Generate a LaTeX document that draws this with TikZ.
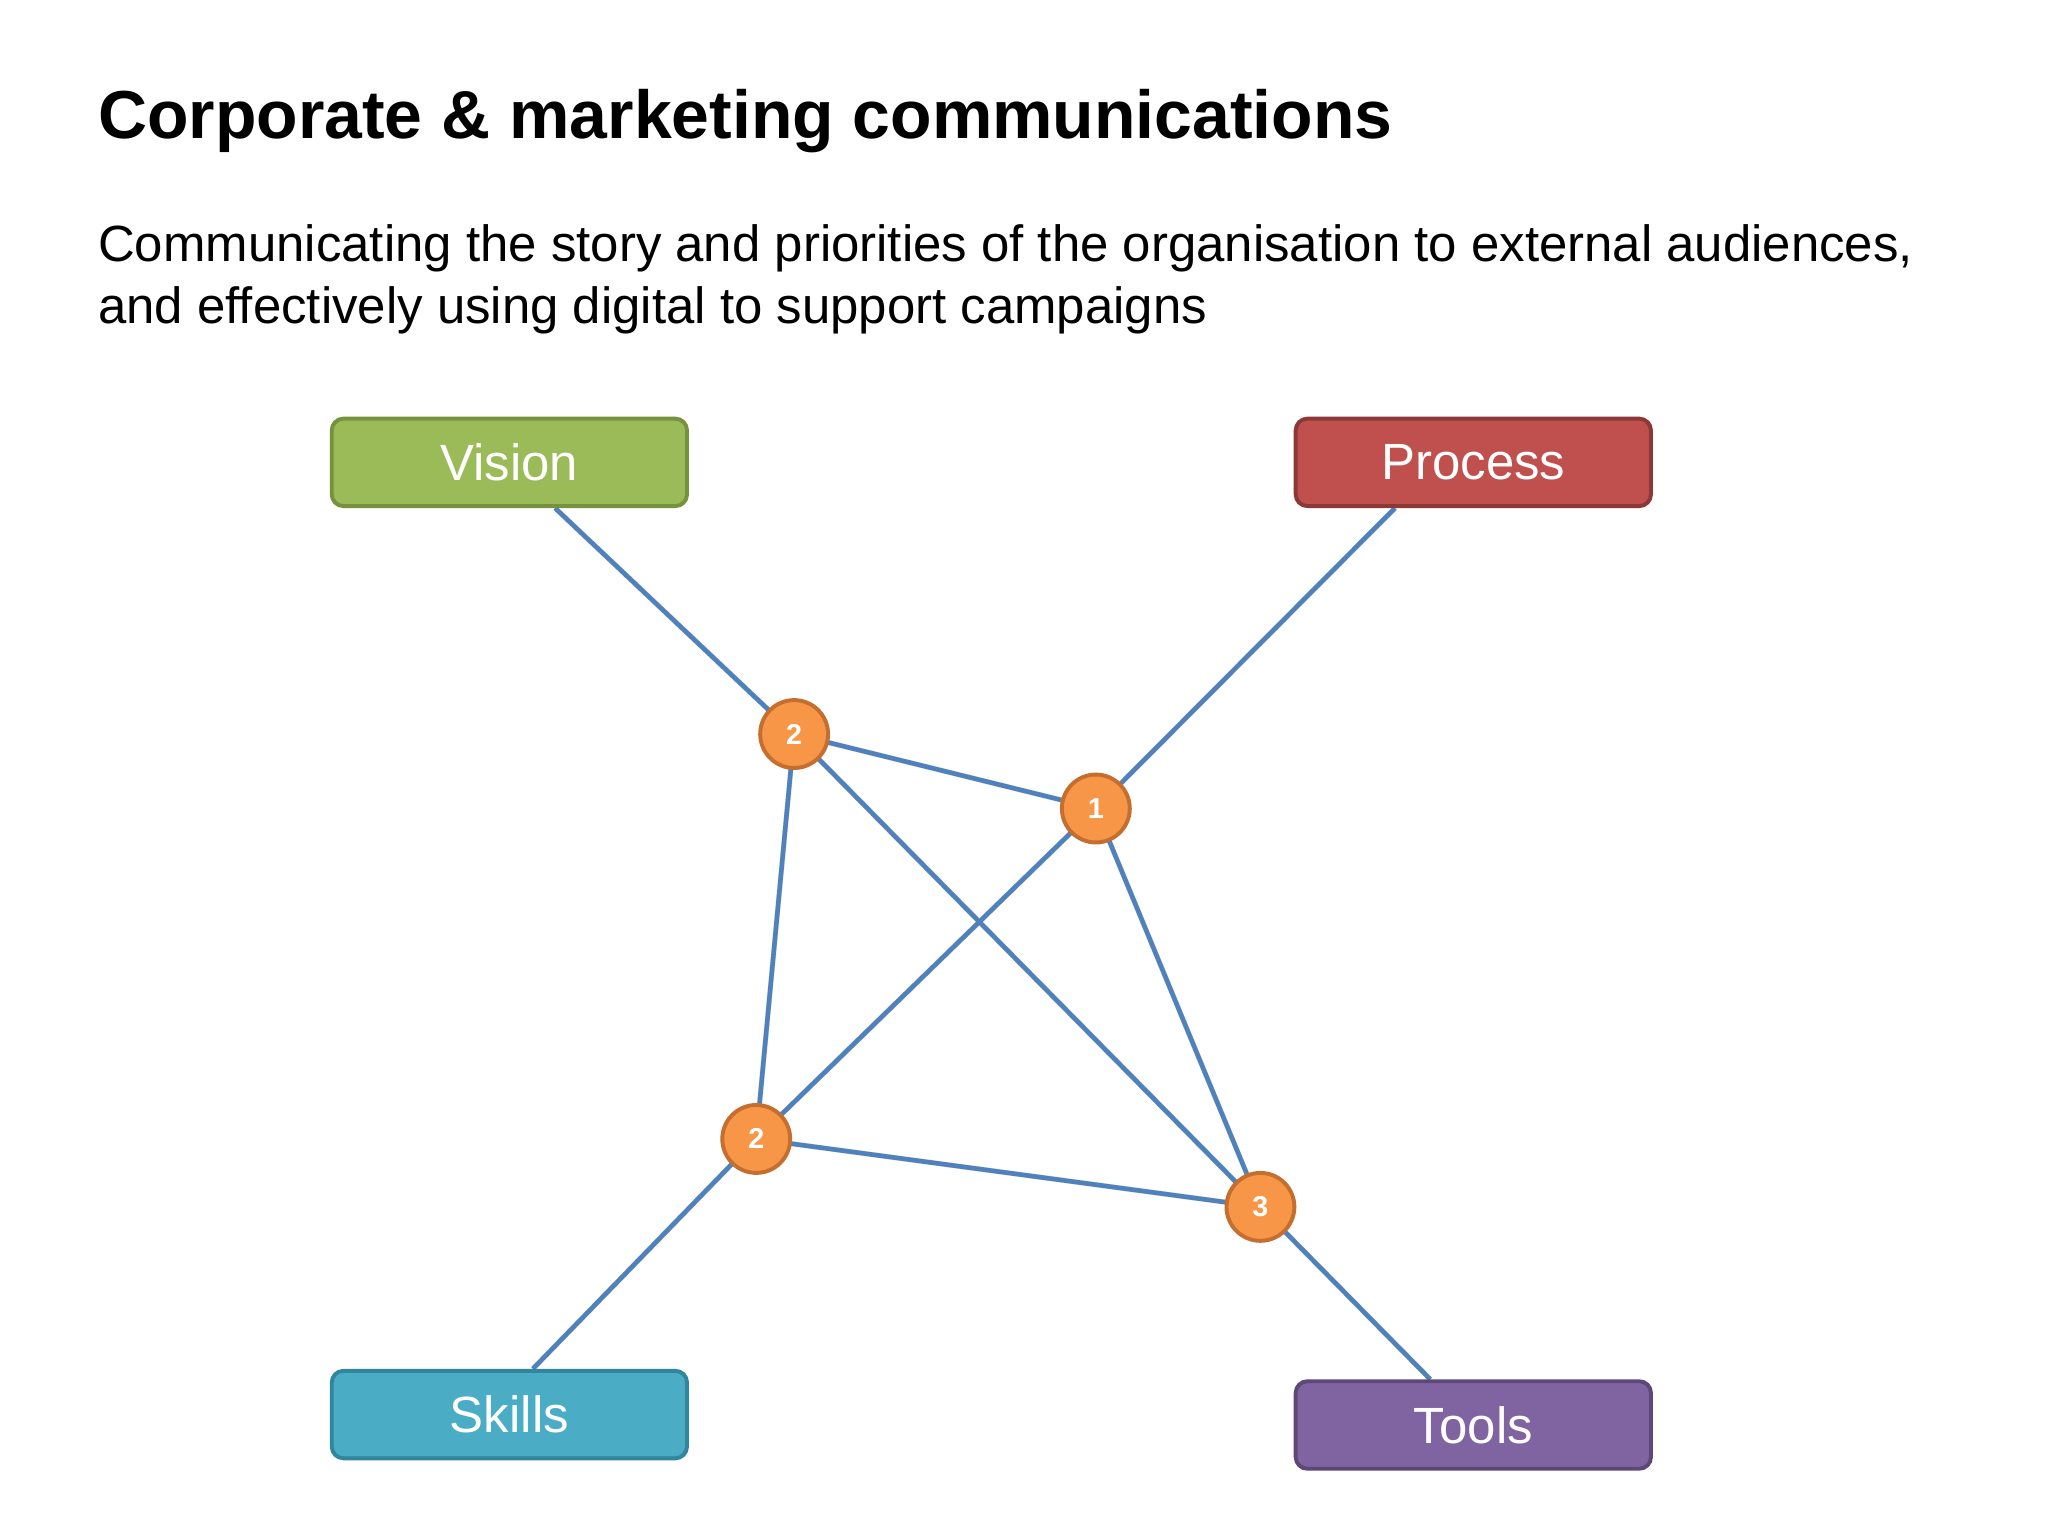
\documentclass[tikz,border=0pt]{standalone}
\usepackage{fontspec}
\setmainfont{Liberation Sans}
\begin{document}
\pgfdeclarelayer{back}\pgfdeclarelayer{lines}
\pgfsetlayers{back,lines,main}
\begin{tikzpicture}[x=1pt,y=-1pt,
  box/.style={rounded corners=9pt,line width=3pt,minimum width=272pt,minimum height=67pt,text=white,font=\fontsize{39}{45}\selectfont,inner sep=0pt},
  num/.style={circle,fill=numf,draw=numd,line width=3pt,minimum size=52pt,inner sep=0pt,text=white,font=\bfseries\fontsize{22}{24}\selectfont},
  conn/.style={draw=linec,line width=3.5pt},
  shad/.style={draw=black!25,line width=4pt,opacity=0.6}]
\definecolor{linec}{RGB}{79,129,189}
\definecolor{numf}{RGB}{247,150,70}
\definecolor{numd}{RGB}{196,110,48}
\begin{pgfonlayer}{back}
\fill[white] (0,0) rectangle (1568,1176);
\end{pgfonlayer}
\useasboundingbox (0,0) rectangle (1568,1176);
\node[anchor=base west,font=\bfseries\fontsize{52}{60}\selectfont,inner sep=0pt] (title) at (75,106) {Corporate \& marketing communications};
\node[anchor=base west,align=left,font=\fontsize{39}{48}\selectfont,inner sep=0pt] (sub) at (75,248) {Communicating the story and priorities of the organisation to external audiences,\\and effectively using digital to support campaigns};
\node[box,fill={rgb,255:red,155;green,187;blue,89},draw={rgb,255:red,118;green,146;blue,60}] (vision) at (390,354) {Vision};
\node[box,fill={rgb,255:red,192;green,80;blue,77},draw={rgb,255:red,140;green,56;blue,54}] (process) at (1128,354) {Process};
\node[box,fill={rgb,255:red,75;green,172;blue,198},draw={rgb,255:red,49;green,133;blue,156}] (skills) at (390,1083) {Skills};
\node[box,fill={rgb,255:red,128;green,100;blue,162},draw={rgb,255:red,93;green,72;blue,120}] (tools) at (1128,1091) {Tools};
\node[num] (a) at (608,562) {2};
\node[num] (b) at (839,619) {1};
\node[num] (c) at (579,872) {2};
\node[num] (d) at (965,924) {3};
\begin{pgfonlayer}{lines}
\foreach \s in {shad,conn}{
\begin{scope}[\s,transform canvas={shift={(\ifx\s shad 2pt\else 0pt\fi,\ifx\s shad -2pt\else 0pt\fi)}}]
\draw ([xshift=35pt]vision.south) -- (a.center) -- (d.center) -- ([xshift=-33pt]tools.north);
\draw ([xshift=-60pt]process.south) -- (b.center) -- (c.center) -- ([xshift=18pt]skills.north);
\draw (a.center) -- (b.center);
\draw (a.center) -- (c.center);
\draw (b.center) -- (d.center);
\draw (c.center) -- (d.center);
\end{scope}}
\end{pgfonlayer}
\end{tikzpicture}
\end{document}
